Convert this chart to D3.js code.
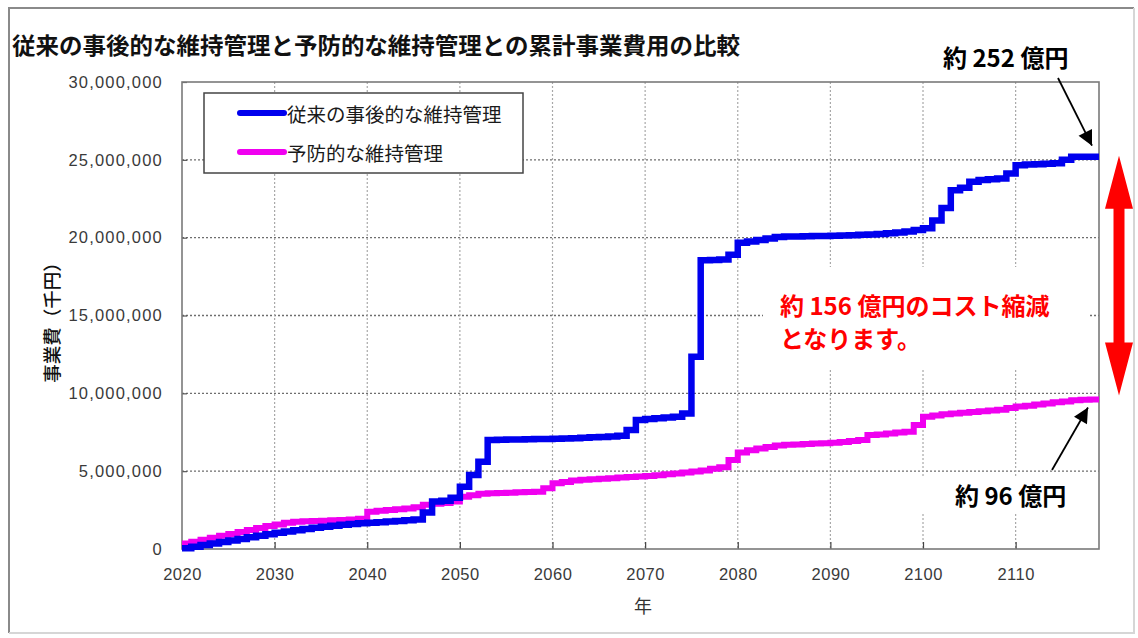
<!DOCTYPE html>
<html>
<head>
<meta charset="utf-8">
<script src="https://cdn.jsdelivr.net/npm/d3@7"></script>
<style>
  body { margin: 0; background: #fff; }
  svg { display: block; }
</style>
</head>
<body>
<svg id="chart" width="1138" height="638"></svg>
<script>
// Cumulative project cost, 億円 (1 億円 = 100,000 千円), one value per year 2020–2119
const years = d3.range(2020, 2120);

const reactiveCost = [
  0.5, 1.5, 2.5, 3.5, 4.5, 5.5, 6.5, 7.5, 8.5, 9.5,
  10.5, 11.3, 12.0, 12.8, 13.6, 14.3, 15.0, 15.5, 16.0, 16.5,
  16.8, 17.2, 17.6, 18.0, 18.4, 18.9, 23.5, 30.5, 31.0, 33.0,
  40.0, 47.5, 56.0, 70.0, 70.2, 70.3, 70.4, 70.5, 70.6, 70.7,
  70.8, 71.0, 71.2, 71.5, 71.8, 72.0, 72.3, 72.7, 76.4, 82.8,
  83.5, 84.0, 84.5, 85.0, 87.0, 123.5, 185.5, 185.7, 186.0, 189.0,
  196.7, 197.5, 198.5, 199.5, 200.5, 200.7, 200.8, 200.9, 201.0, 201.0,
  201.2, 201.4, 201.6, 201.8, 202.0, 202.3, 202.8, 203.3, 204.0, 205.0,
  206.0, 211.0, 219.0, 230.5, 232.0, 236.0, 237.0, 237.5, 238.0, 241.3,
  246.6, 247.0, 247.2, 247.5, 247.8, 250.0, 252.0, 252.0, 252.0, 252.0
];

const preventiveCost = [
  3.5, 4.7, 6.0, 7.2, 8.5, 9.7, 11.0, 12.2, 13.5, 14.7,
  15.8, 16.8, 17.5, 17.8, 18.0, 18.2, 18.4, 18.7, 19.0, 19.5,
  24.0, 24.5, 25.0, 25.5, 26.0, 26.8, 28.5, 29.0, 29.5, 30.5,
  33.5, 34.5, 35.5, 35.8, 36.0, 36.2, 36.4, 36.6, 36.8, 39.0,
  42.2, 43.0, 44.0, 44.5, 44.8, 45.2, 45.5, 46.0, 46.3, 46.6,
  46.9, 47.4, 48.0, 48.5, 49.2, 49.8, 50.5, 51.5, 52.5, 57.2,
  62.0, 63.5, 64.5, 65.5, 66.5, 67.0, 67.2, 67.5, 67.8, 68.0,
  68.3, 68.8, 69.3, 70.0, 73.2, 73.6, 74.2, 74.8, 75.3, 79.6,
  85.0, 85.8, 86.5, 87.0, 87.5, 88.0, 88.5, 89.0, 89.5, 90.5,
  91.5, 92.0, 92.8, 93.5, 94.2, 94.8, 95.5, 95.8, 96.0, 96.0
];

const seriesNames = ["従来の事後的な維持管理", "予防的な維持管理"];
const xTickValues = [2020, 2030, 2040, 2050, 2060, 2070, 2080, 2090, 2100, 2110];
const yTickValues = [0, 5000000, 10000000, 15000000, 20000000, 25000000, 30000000];

const titleText = "従来の事後的な維持管理と予防的な維持管理との累計事業費用の比較";
const yAxisTitle = "事業費（千円）";
const xAxisTitle = "年";

const SEN_PER_OKU = 100000; // 千円 per 億円

// ---- layout ----
const svg = d3.select("#chart");
const W = 1138, H = 638;
const plot = { left: 182, right: 1099, top: 82, bottom: 549 };
const jp = "'Noto Sans CJK JP', 'Noto Sans', sans-serif";
const num = "'Liberation Sans', Arial, sans-serif";

const x = d3.scaleLinear().domain([2020, 2119]).range([plot.left, plot.right]);
const y = d3.scaleLinear().domain([0, 30000000]).range([plot.bottom, plot.top]);

svg.append("rect").attr("width", W).attr("height", H).attr("fill", "#fff");

// outer frame
svg.append("path")
  .attr("d", `M9,633 V8 H1134`)
  .attr("fill", "none").attr("stroke", "#8a8a8a").attr("stroke-width", 2);
svg.append("path")
  .attr("d", `M1134,8 V633 H9`)
  .attr("fill", "none").attr("stroke", "#d6d6d6").attr("stroke-width", 2);

// title
svg.append("text")
  .attr("x", 12).attr("y", 44)
  .attr("dominant-baseline", "central")
  .attr("font-family", jp).attr("font-weight", 700).attr("font-size", 23)
  .attr("textLength", 728).attr("lengthAdjust", "spacingAndGlyphs")
  .attr("fill", "#111")
  .text(titleText);

// grid
const grid = svg.append("g");
grid.selectAll("line.h")
  .data(yTickValues.filter(v => v > 0 && v < 30000000))
  .join("line")
  .attr("x1", plot.left).attr("x2", plot.right)
  .attr("y1", d => y(d)).attr("y2", d => y(d))
  .attr("stroke", "#6e6e6e").attr("stroke-width", 1.4)
  .attr("stroke-dasharray", "2,2");
grid.selectAll("line.v")
  .data(xTickValues.filter(v => v > 2020))
  .join("line")
  .attr("x1", d => x(d)).attr("x2", d => x(d))
  .attr("y1", plot.top).attr("y2", plot.bottom)
  .attr("stroke", "#a8a8a8").attr("stroke-width", 1.2)
  .attr("stroke-dasharray", "2,2");

// axes
const xAxis = svg.append("g")
  .attr("transform", `translate(0,${plot.bottom})`)
  .call(d3.axisBottom(x).tickValues(xTickValues).tickFormat(d3.format("d"))
    .tickSizeInner(-7).tickSizeOuter(0).tickPadding(19));
xAxis.select(".domain").remove();
xAxis.selectAll(".tick line").attr("stroke", "#444").attr("stroke-width", 1.2);
xAxis.selectAll(".tick text")
  .attr("font-family", num).attr("font-size", 16.5).attr("fill", "#3a3a3a")
  .attr("letter-spacing", "0.5px");

const yAxis = svg.append("g")
  .attr("transform", `translate(${plot.left},0)`)
  .call(d3.axisLeft(y).tickValues(yTickValues).tickFormat(d3.format(","))
    .tickSizeInner(-5).tickSizeOuter(0).tickPadding(19));
yAxis.select(".domain").remove();
yAxis.selectAll(".tick line").attr("stroke", "#555").attr("stroke-width", 1.2);
yAxis.selectAll(".tick text")
  .attr("font-family", num).attr("font-size", 16.5).attr("fill", "#3a3a3a")
  .attr("letter-spacing", "1.2px");

// plot frame
svg.append("rect")
  .attr("x", plot.left).attr("y", plot.top)
  .attr("width", plot.right - plot.left).attr("height", plot.bottom - plot.top)
  .attr("fill", "none").attr("stroke", "#7a7a7a").attr("stroke-width", 1.6);

// axis titles
svg.append("text")
  .attr("transform", `translate(51,318) rotate(-90)`)
  .attr("text-anchor", "middle").attr("dominant-baseline", "central")
  .attr("font-family", jp).attr("font-weight", 500).attr("font-size", 18.5).attr("fill", "#111")
  .text(yAxisTitle);
svg.append("text")
  .attr("x", 643).attr("y", 605)
  .attr("text-anchor", "middle").attr("dominant-baseline", "central")
  .attr("font-family", jp).attr("font-size", 18).attr("fill", "#333")
  .text(xAxisTitle);

// white panels behind in-plot annotations
svg.append("rect").attr("x", 763).attr("y", 267).attr("width", 325).attr("height", 103).attr("fill", "#fff");
svg.append("rect").attr("x", 915).attr("y", 477).attr("width", 182).attr("height", 36).attr("fill", "#fff");

// lines
const line = d3.line()
  .x((d, i) => x(years[i]))
  .y(d => y(d * SEN_PER_OKU))
  .curve(d3.curveStepAfter);

const colors = ["#0000ee", "#f000f0"];
svg.append("path")
  .datum(preventiveCost)
  .attr("d", line)
  .attr("fill", "none").attr("stroke", colors[1]).attr("stroke-width", 6)
  .attr("stroke-linejoin", "miter").attr("stroke-linecap", "butt");
svg.append("path")
  .datum(reactiveCost)
  .attr("d", line)
  .attr("fill", "none").attr("stroke", colors[0]).attr("stroke-width", 6.5)
  .attr("stroke-linejoin", "miter").attr("stroke-linecap", "butt");

// legend
const lg = svg.append("g");
lg.append("rect").attr("x", 204).attr("y", 93).attr("width", 319).attr("height", 80)
  .attr("fill", "#fff").attr("stroke", "#444").attr("stroke-width", 1.5);
seriesNames.forEach((name, i) => {
  const cy = 113 + i * 39;
  lg.append("line").attr("x1", 240).attr("x2", 284).attr("y1", cy).attr("y2", cy)
    .attr("stroke", colors[i]).attr("stroke-width", 6).attr("stroke-linecap", "round");
  lg.append("text").attr("x", 287).attr("y", cy)
    .attr("dominant-baseline", "central")
    .attr("font-family", jp).attr("font-size", 19.5).attr("fill", "#1a1a1a")
    .text(name);
});

// annotations
const endReactive = reactiveCost[reactiveCost.length - 1];
const endPreventive = preventiveCost[preventiveCost.length - 1];
const saving = endReactive - endPreventive;

const defs = svg.append("defs");
defs.append("marker").attr("id", "ah")
  .attr("viewBox", "0 0 10 10").attr("refX", 10).attr("refY", 5)
  .attr("markerWidth", 19).attr("markerHeight", 15).attr("markerUnits", "userSpaceOnUse")
  .attr("orient", "auto")
  .append("path").attr("d", "M0,0 L10,5 L0,10 Z").attr("fill", "#000");

svg.append("text")
  .attr("x", 943).attr("y", 56).attr("dominant-baseline", "central")
  .attr("font-family", jp).attr("font-weight", 700).attr("font-size", 24).attr("fill", "#000")
  .text(`約 ${endReactive} 億円`);
svg.append("line")
  .attr("x1", 1058).attr("y1", 78).attr("x2", 1092).attr("y2", y(endReactive * SEN_PER_OKU) - 11)
  .attr("stroke", "#000").attr("stroke-width", 1.8).attr("marker-end", "url(#ah)");

svg.append("text")
  .attr("x", 955).attr("y", 494).attr("dominant-baseline", "central")
  .attr("font-family", jp).attr("font-weight", 700).attr("font-size", 24).attr("fill", "#000")
  .text(`約 ${endPreventive} 億円`);
svg.append("line")
  .attr("x1", 1052).attr("y1", 470).attr("x2", 1088).attr("y2", y(endPreventive * SEN_PER_OKU) + 8)
  .attr("stroke", "#000").attr("stroke-width", 1.8).attr("marker-end", "url(#ah)");

svg.append("text")
  .attr("x", 780).attr("y", 304).attr("dominant-baseline", "central")
  .attr("font-family", jp).attr("font-weight", 700).attr("font-size", 24).attr("fill", "#ff0000")
  .text(`約 ${saving} 億円のコスト縮減`);
svg.append("text")
  .attr("x", 780).attr("y", 337).attr("dominant-baseline", "central")
  .attr("font-family", jp).attr("font-weight", 700).attr("font-size", 24).attr("fill", "#ff0000")
  .text("となります。");

// red double-headed arrow spanning the gap between the two end values
const arrowX = 1119;
const arrowTop = y(endReactive * SEN_PER_OKU) - 1;
const arrowBot = y(endPreventive * SEN_PER_OKU) - 4;
const headL = 53, headW = 14, shaftW = 5.5;
svg.append("path")
  .attr("d", [
    `M${arrowX},${arrowTop}`,
    `L${arrowX + headW},${arrowTop + headL}`, `L${arrowX + shaftW},${arrowTop + headL}`,
    `L${arrowX + shaftW},${arrowBot - headL}`, `L${arrowX + headW},${arrowBot - headL}`,
    `L${arrowX},${arrowBot}`,
    `L${arrowX - headW},${arrowBot - headL}`, `L${arrowX - shaftW},${arrowBot - headL}`,
    `L${arrowX - shaftW},${arrowTop + headL}`, `L${arrowX - headW},${arrowTop + headL}`, "Z"
  ].join(" "))
  .attr("fill", "#ff0000");
</script>
</body>
</html>
